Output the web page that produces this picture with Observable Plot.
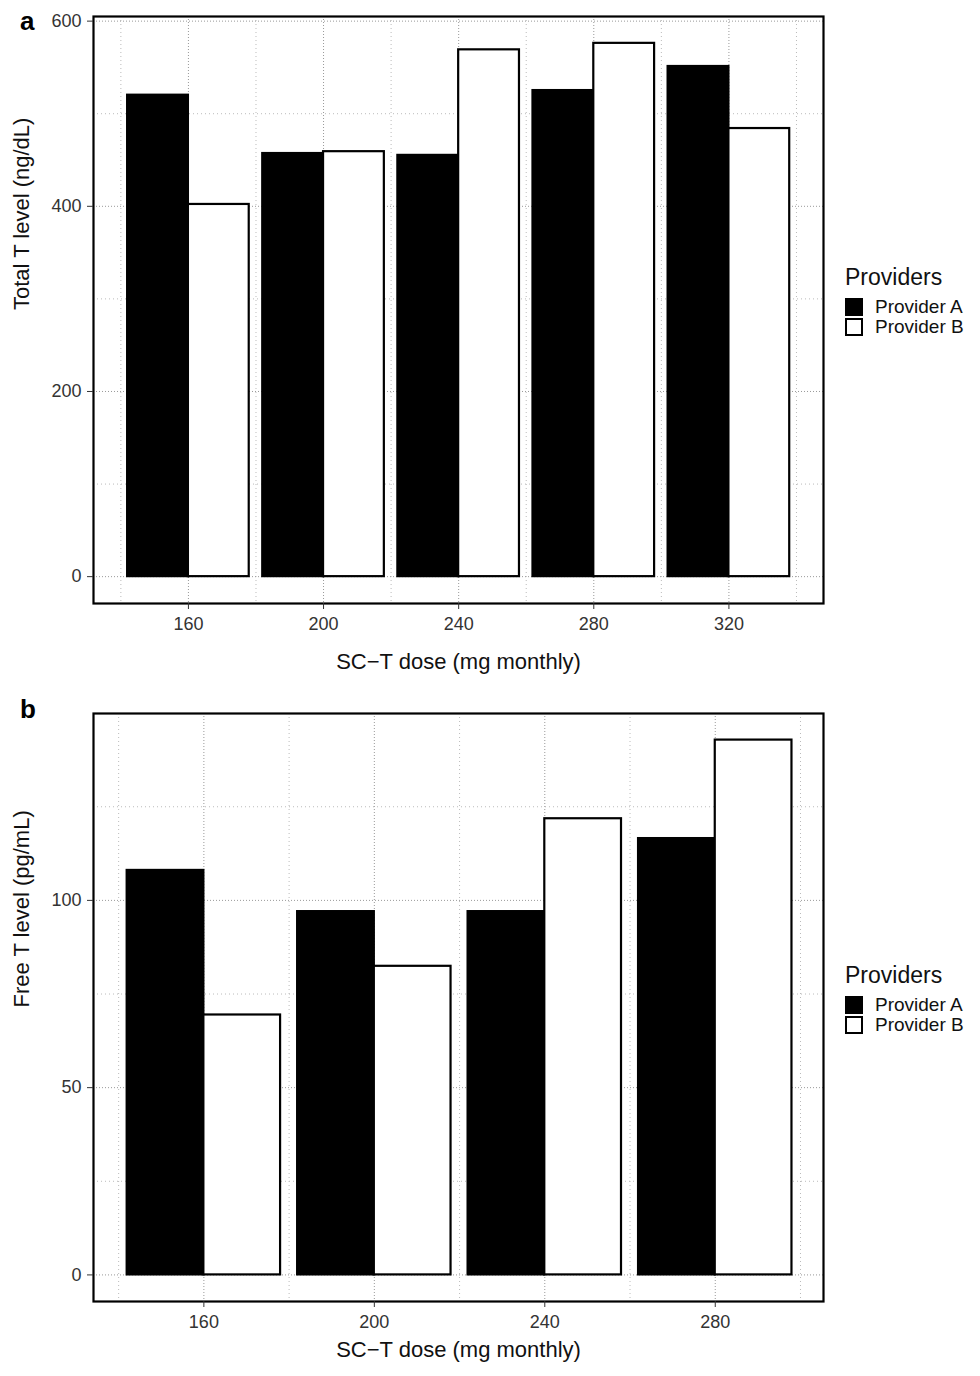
<!DOCTYPE html>
<html><head><meta charset="utf-8">
<script src="https://cdn.jsdelivr.net/npm/d3@7"></script>
<script src="https://cdn.jsdelivr.net/npm/@observablehq/plot@0.6"></script>
<style>
body{margin:0;background:#fff;font-family:"Liberation Sans",Arial,sans-serif}
.panel{position:relative;width:980px;height:688px}
.tag{position:absolute;left:20px;top:6px;font-weight:bold;font-size:26px}
.legend{position:absolute;left:845px;font-size:21px;color:#111}
.legend .t{font-size:23px;margin-bottom:6px}
.legend .k{display:flex;align-items:center;line-height:20px;font-size:19px}
.legend .sw{width:18px;height:18px;border:2px solid #000;margin-right:12px;box-sizing:border-box}
</style></head>
<body><div id="a" class="panel"></div><div id="b" class="panel"></div>
<script>
const providers = ["Provider A", "Provider B"];
const dosesA = [160, 200, 240, 280, 320];
const totalA = [520, 457, 455, 525, 551];
const totalB = [402, 459, 569, 576, 484];
const dosesB = [160, 200, 240, 280];
const freeA = [108, 97, 97, 116.5];
const freeB = [69.4, 82.4, 121.8, 142.8];

function rows(doses, a, b) {
  const out = [];
  doses.forEach((d, i) => {
    out.push({dose: d, provider: providers[0], value: a[i], x1: d - 18, x2: d});
    out.push({dose: d, provider: providers[1], value: b[i], x1: d, x2: d + 18});
  });
  return out;
}

function panel(id, tag, data, doses, xdom, ydom, yticks, yminor, ylabel, mt, mb) {
  const xminor = doses.map(d => d - 20).concat([doses[doses.length - 1] + 20]);
  const chart = Plot.plot({
    width: 830, height: 688, marginLeft: 93, marginRight: 7, marginTop: mt, marginBottom: mb,
    style: {fontFamily: "Liberation Sans, Arial, sans-serif", fontSize: "18px", color: "#333"},
    x: {domain: xdom}, y: {domain: ydom},
    color: {domain: providers, range: ["#000", "#fff"]},
    marks: [
      Plot.ruleY(yminor, {stroke: "#bbb", strokeDasharray: "1,3"}),
      Plot.ruleX(xminor, {stroke: "#bbb", strokeDasharray: "1,3"}),
      Plot.ruleY(yticks, {stroke: "#999", strokeDasharray: "1,2"}),
      Plot.ruleX(doses, {stroke: "#999", strokeDasharray: "1,2"}),
      Plot.rectY(data, {x1: "x1", x2: "x2", y1: 0, y2: "value", fill: "provider", stroke: "#000", strokeWidth: 2.2}),
      Plot.frame({stroke: "#000", strokeWidth: 2.2}),
      Plot.axisX(doses, {tickSize: 6, tickPadding: 8, label: null, fontSize: 18, fill: "#333", stroke: "#333"}),
      Plot.axisY(yticks, {tickSize: 6, tickPadding: 6, label: null, fontSize: 18, fill: "#333", stroke: "#333"}),
      Plot.text(["SC\u2212T dose (mg monthly)"], {frameAnchor: "bottom", dy: mb - 20, fontSize: 22, fill: "#111"}),
      Plot.text([ylabel], {frameAnchor: "left", dx: -72, rotate: -90, fontSize: 22, fill: "#111"})
    ]
  });
  const el = document.getElementById(id);
  el.append(chart);
  el.insertAdjacentHTML("beforeend", `<div class="tag">${tag}</div>
  <div class="legend" style="top:${id === "a" ? 264 : 274}px"><div class="t">Providers</div>
  <div class="k"><span class="sw" style="background:#000"></span>Provider A</div>
  <div class="k"><span class="sw" style="background:#fff"></span>Provider B</div></div>`);
}

panel("a", "a", rows(dosesA, totalA, totalB), dosesA, [131.9, 348], [-29, 605],
  [0, 200, 400, 600], [100, 300, 500], "Total T level (ng/dL)", 16, 85);
panel("b", "b", rows(dosesB, freeA, freeB), dosesB, [134.1, 305.4], [-7.1, 149.9],
  [0, 50, 100], [25, 75, 125], "Free T level (pg/mL)", 25, 75);
</script></body></html>
